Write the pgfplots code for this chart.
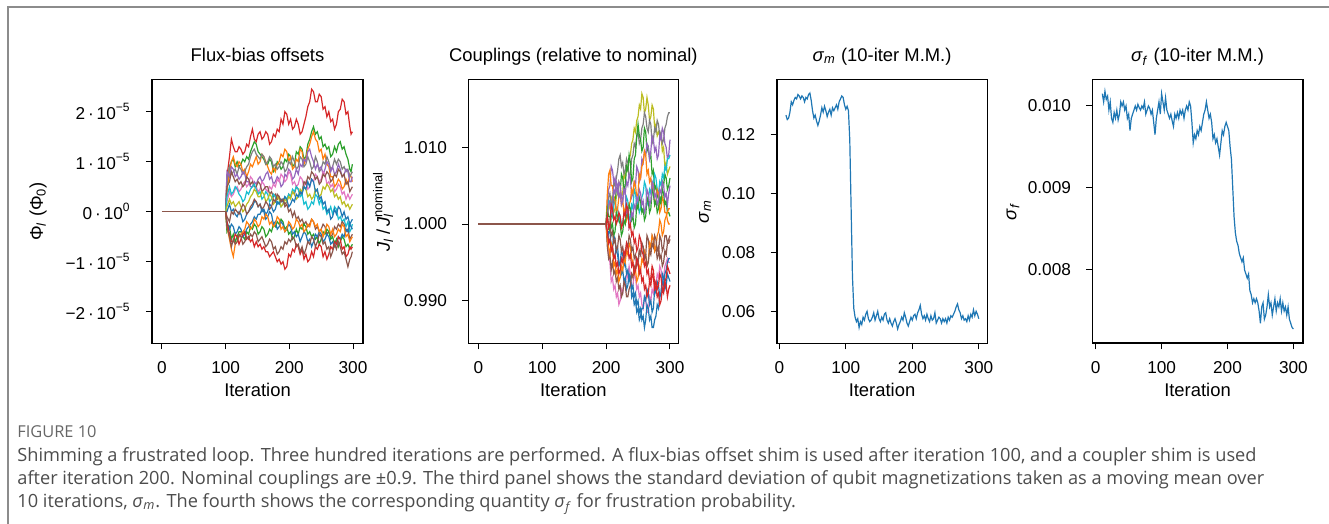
\documentclass[border=0pt]{standalone}
\usepackage{fontspec}
\setmainfont{Liberation Sans}
\newfontfamily\capfont{Open Sans}
\usepackage{pgfplots}
\usepackage{pgfplotstable}
\pgfplotsset{compat=1.18}

\definecolor{cB}{HTML}{1F77B4}
\definecolor{cO}{HTML}{FF7F0E}
\definecolor{cG}{HTML}{2CA02C}
\definecolor{cR}{HTML}{D62728}
\definecolor{cP}{HTML}{9467BD}
\definecolor{cBr}{HTML}{8C564B}
\definecolor{cPk}{HTML}{E377C2}
\definecolor{cGy}{HTML}{7F7F7F}
\definecolor{cOl}{HTML}{BCBD22}
\definecolor{cC}{HTML}{17BECF}

% Flux-bias offsets (units of 1e-5 Phi_0)
\pgfplotstableread{
x s1 s2 s3 s4 s5 s6 s7 s8 s9 s10 s11 s12 s13 s14 s15 s16
100 0 0 0 0 0 0 0 0 0 0 0 0 0 0 0 0
102 0.7 0.5 0.4 0.6 0.8 0.2 0.5 0.3 0.1 0.0 -0.1 -0.4 -0.2 -0.3 -0.2 -0.3
106 1.1 0.9 0.8 0.9 0.7 0.4 0.6 0.5 0.25 0.15 -0.2 -0.3 -0.35 -0.5 -0.45 -0.55
109 1.45 1.0 1.0 0.75 0.9 0.3 0.8 0.35 0.15 0.0 0.0 -0.55 -0.25 -0.7 -0.6 -0.75
112 1.3 1.05 1.1 0.8 0.85 0.35 0.7 0.4 0.2 0.05 -0.05 -0.45 -0.3 -0.55 -0.6 -0.9
115 1.2 0.9 0.95 0.85 0.7 0.45 0.6 0.5 0.1 -0.05 0.05 -0.6 -0.45 -0.65 -0.45 -0.65
118 1.2 1.0 0.9 0.75 0.75 0.5 0.65 0.45 0.15 -0.1 0.0 -0.5 -0.4 -0.6 -0.5 -0.6
121 1.3 0.9 1.0 0.9 0.65 0.4 0.55 0.35 0.2 0.0 -0.05 -0.4 -0.3 -0.45 -0.65 -0.5
124 1.25 0.95 0.95 0.85 0.7 0.45 0.6 0.3 0.1 -0.05 0.05 -0.4 -0.35 -0.5 -0.55 -0.45
127 1.15 1.05 0.8 0.75 0.8 0.55 0.5 0.2 0.0 -0.2 0.15 -0.5 -0.5 -0.65 -0.45 -0.4
130 1.2 1.0 0.85 0.8 0.75 0.6 0.55 0.25 0.05 -0.15 0.1 -0.55 -0.45 -0.6 -0.4 -0.35
133 1.35 1.1 0.7 0.9 0.6 0.5 0.7 0.4 0.15 -0.05 -0.05 -0.4 -0.35 -0.5 -0.55 -0.2
136 1.3 1.05 0.8 0.95 0.6 0.55 0.65 0.35 0.2 0.0 0.0 -0.45 -0.3 -0.55 -0.5 -0.25
139 1.5 1.2 0.95 1.1 0.5 0.7 0.55 0.45 0.3 0.05 0.1 -0.3 -0.25 -0.45 -0.6 -0.35
142 1.65 1.3 0.9 1.2 0.5 0.65 0.6 0.5 0.35 0.1 0.15 -0.35 -0.2 -0.5 -0.55 -0.3
145 1.45 1.4 1.0 1.25 0.6 0.5 0.5 0.55 0.45 0.2 0.25 -0.25 -0.1 -0.4 -0.7 -0.15
148 1.4 1.35 1.1 1.15 0.55 0.5 0.5 0.45 0.4 0.2 0.2 -0.3 -0.15 -0.45 -0.6 -0.2
151 1.55 1.2 0.95 1.1 0.65 0.4 0.6 0.35 0.3 0.1 0.1 -0.45 -0.05 -0.6 -0.7 -0.3
154 1.6 1.15 1.0 1.05 0.7 0.45 0.55 0.4 0.3 0.15 0.15 -0.4 -0.05 -0.55 -0.65 -0.25
157 1.45 1.1 1.15 1.15 0.6 0.6 0.4 0.25 0.4 0.0 0.05 -0.3 0.05 -0.5 -0.75 -0.1
160 1.5 1.05 1.1 1.1 0.65 0.55 0.45 0.3 0.35 0.05 0.1 -0.35 0.0 -0.6 -0.7 -0.15
163 1.6 0.95 1.0 0.95 0.75 0.45 0.5 0.4 0.2 -0.05 0.2 -0.5 -0.15 -0.7 -0.8 -0.05
166 1.55 0.95 0.9 1.0 0.8 0.4 0.5 0.35 0.25 0.0 0.15 -0.45 -0.1 -0.65 -0.8 -0.1
169 1.35 1.05 0.8 1.1 0.65 0.5 0.35 0.2 0.35 0.15 0.05 -0.35 0.0 -0.55 -0.9 -0.25
172 1.4 1.0 0.75 1.05 0.7 0.45 0.4 0.25 0.3 0.1 0.1 -0.4 -0.05 -0.6 -0.85 -0.2
175 1.55 0.8 0.9 0.9 0.55 0.55 0.3 0.35 0.15 0.0 0.25 -0.25 -0.25 -0.75 -0.8 -0.3
178 1.5 0.85 0.8 0.95 0.6 0.5 0.35 0.3 0.2 0.05 0.2 -0.3 -0.2 -0.7 -0.9 -0.25
181 1.65 1.0 0.95 0.85 0.7 0.65 0.25 0.15 0.3 0.2 0.35 -0.2 -0.35 -0.85 -1.0 -0.1
184 1.6 0.95 1.0 0.9 0.65 0.6 0.3 0.2 0.25 0.15 0.3 -0.25 -0.3 -0.8 -0.95 -0.15
187 1.85 0.85 1.15 1.0 0.5 0.75 0.2 0.1 0.1 0.25 0.2 -0.15 -0.2 -0.7 -1.05 -0.35
190 1.75 0.9 1.1 0.95 0.55 0.7 0.25 0.15 0.15 0.2 0.25 -0.2 -0.25 -0.75 -1.0 -0.3
193 2.0 1.05 1.25 0.8 0.75 0.6 0.15 0.3 0.25 0.3 0.1 -0.35 -0.4 -0.6 -1.15 -0.4
196 1.95 1.0 1.2 0.85 0.7 0.65 0.2 0.25 0.2 0.25 0.15 -0.3 -0.35 -0.65 -1.1 -0.35
199 1.75 1.15 1.0 1.0 0.85 0.8 0.35 0.35 0.3 0.1 0.0 -0.45 -0.25 -0.55 -0.85 -0.2
202 1.85 1.1 1.1 0.95 0.8 0.75 0.3 0.3 0.25 0.15 0.05 -0.4 -0.3 -0.6 -0.9 -0.25
205 1.65 0.9 0.85 1.1 0.65 0.55 0.4 0.45 0.4 0.25 -0.1 -0.55 -0.45 -0.5 -0.75 -0.35
208 1.7 0.95 0.9 1.0 0.7 0.6 0.35 0.4 0.35 0.2 0.0 -0.5 -0.4 -0.55 -0.8 -0.3
211 1.85 1.2 1.05 0.85 0.85 0.5 0.5 0.5 0.25 0.35 -0.15 -0.35 -0.5 -0.7 -0.65 -0.15
214 1.75 1.15 1.0 0.9 0.75 0.55 0.45 0.45 0.3 0.3 -0.1 -0.45 -0.45 -0.65 -0.7 -0.2
217 1.55 1.3 1.25 1.1 0.95 0.7 0.35 0.3 0.45 0.4 -0.2 -0.3 -0.6 -0.8 -0.85 -0.3
220 1.6 1.25 1.2 1.05 0.9 0.65 0.4 0.35 0.4 0.35 -0.15 -0.35 -0.5 -0.7 -0.75 -0.25
223 1.75 1.05 0.95 0.9 1.05 0.5 0.6 0.15 0.5 0.5 -0.25 -0.25 -0.4 -0.85 -0.95 -0.4
226 1.9 1.1 1.05 0.95 1.0 0.6 0.55 0.2 0.45 0.45 -0.2 -0.3 -0.45 -0.75 -0.85 -0.35
229 2.1 1.35 1.25 1.1 1.2 0.45 0.7 0.05 0.3 0.6 -0.3 -0.45 -0.6 -0.6 -1.0 -0.25
232 2.2 1.45 1.35 1.0 1.25 0.5 0.65 0.1 0.35 0.5 -0.25 -0.4 -0.55 -0.65 -0.95 -0.3
235 2.45 1.6 1.5 0.85 1.1 0.65 0.8 0.2 0.25 0.65 -0.15 -0.5 -0.7 -0.5 -0.8 -0.15
238 2.4 1.7 1.6 0.9 1.0 0.6 0.75 0.15 0.3 0.6 -0.2 -0.45 -0.6 -0.55 -0.9 -0.2
241 2.2 1.55 1.45 1.1 0.85 0.75 0.65 0.35 0.45 0.4 -0.35 -0.55 -0.45 -0.7 -0.7 -0.3
244 2.2 1.6 1.4 1.0 0.95 0.7 0.7 0.3 0.4 0.45 -0.3 -0.5 -0.5 -0.6 -0.75 -0.25
247 2.35 1.45 1.2 0.8 0.85 0.6 0.55 0.15 0.3 0.25 -0.4 -0.65 -0.4 -0.45 -0.65 -0.4
250 2.3 1.5 1.25 0.85 0.9 0.65 0.6 0.25 0.35 0.3 -0.35 -0.55 -0.45 -0.5 -0.7 -0.35
253 2.05 1.3 1.05 1.0 0.75 0.8 0.75 0.05 0.5 0.15 -0.25 -0.4 -0.6 -0.65 -0.9 -0.5
256 2.1 1.35 1.15 0.95 0.85 0.75 0.7 0.1 0.45 0.2 -0.3 -0.45 -0.55 -0.6 -0.8 -0.4
259 1.9 1.25 0.95 1.1 1.0 0.55 0.8 -0.05 0.55 0.0 -0.45 -0.35 -0.45 -0.75 -0.95 -0.25
262 2.0 1.3 0.9 1.0 0.95 0.6 0.75 0.0 0.5 0.05 -0.4 -0.4 -0.5 -0.7 -0.85 -0.3
265 1.8 1.1 0.7 0.85 0.8 0.5 0.6 0.1 0.4 -0.15 -0.5 -0.55 -0.65 -0.9 -0.7 -0.45
268 1.85 1.15 0.7 0.9 0.9 0.55 0.65 -0.05 0.45 -0.1 -0.45 -0.5 -0.6 -0.8 -0.75 -0.35
271 1.65 1.3 0.5 1.05 0.75 0.4 0.75 0.1 0.3 0.05 -0.3 -0.65 -0.7 -0.65 -0.6 -0.5
274 1.75 1.2 0.55 0.95 0.8 0.45 0.7 0.05 0.35 -0.05 -0.35 -0.55 -0.65 -0.75 -0.65 -0.45
277 2.0 1.35 0.65 1.05 0.95 0.55 0.85 -0.15 0.25 0.1 -0.25 -0.7 -0.5 -0.6 -0.5 -0.35
280 2.05 1.4 0.6 1.0 0.85 0.5 0.8 -0.1 0.3 0.05 -0.3 -0.6 -0.55 -0.7 -0.55 -0.4
283 2.25 1.25 0.45 0.85 0.7 0.35 0.7 -0.2 0.15 -0.1 -0.2 -0.5 -0.45 -0.85 -0.75 -0.25
286 2.2 1.3 0.5 0.9 0.75 0.4 0.75 -0.15 0.2 0.0 -0.25 -0.55 -0.5 -0.8 -0.7 -0.3
289 1.95 1.15 0.65 0.8 0.85 0.25 0.55 -0.3 0.1 -0.15 -0.4 -0.7 -0.35 -0.95 -0.9 -0.5
292 2.0 1.05 0.55 0.85 0.8 0.35 0.6 -0.2 0.15 -0.1 -0.35 -0.65 -0.4 -1.1 -0.85 -0.45
295 1.7 0.85 0.75 0.7 0.6 0.25 0.4 -0.4 0.05 -0.25 -0.55 -0.75 -0.25 -0.95 -0.7 -0.6
297 1.55 0.8 0.7 0.75 0.6 0.3 0.45 -0.35 0.1 -0.2 -0.5 -0.7 -0.3 -0.9 -0.75 -0.55
299 1.6 0.95 0.6 0.8 0.7 0.35 0.5 -0.25 0.15 -0.15 -0.45 -0.65 -0.35 -0.8 -0.7 -0.5
}\tabA

% Couplings relative to nominal (units of 1e-3, offset from 1)
\pgfplotstableread{
x c1 c2 c3 c4 c5 c6 c7 c8 c9 c10 c11 c12 c13 c14 c15 c16
200 0 0 0 0 0 0 0 0 0 0 0 0 0 0 0 0
202 1 2 1 3 2 4 1 -3 -2 -1 -2 2 -1 -2 1 1
204 2.5 3.5 -0.5 4.5 3 6.5 -0.5 -4.5 -4 -2 -1 1 -2.5 -3 2.5 -0.5
206 2 4 -1 5 3 7 0 -4 -5 -2 -1 1 -2 -4 3 0
208 3.5 2.5 1 7.5 1.5 5 2.5 -6 -7.5 -3.5 -3 -0.5 -3.5 -2.5 1.5 -1.5
210 3 3 2 7 1 5 2 -5 -7 -3 -3 0 -3 -3 2 -1
212 1.5 5.5 3.5 5.5 2.5 3.5 0.5 -6.5 -8.5 -1.5 -4.5 -1.5 -4.5 -5.5 4.5 -2.5
214 2 5 3 6 3 3 1 -6 -8 -2 -4 -1 -4 -5 4 -2
216 3.5 6 4.5 4.5 2 1.5 0 -7.5 -9.5 -3.5 -3 1.5 -5.5 -6.5 5.5 -3.5
218 4 7 5 4 2 2 0.5 -7 -9 -4 -3 1 -5 -6 5 -3
220 5.5 8.5 3.5 5.5 0.5 3.5 1.5 -8.5 -10.5 -5.5 -5 0.5 -6.5 -7.5 3.5 -1.5
222 5 9 4 5 1 4 1 -8 -10 -5 -5 0 -6 -7 4 -2
224 3.5 7.5 6.5 3.5 0 2.5 -0.5 -9.5 -8.5 -3.5 -6.5 -1.5 -4.5 -5.5 2.5 -3.5
226 4 8 6 3 0 3 0 -9 -9 -4 -6 -1 -5 -6 3 -3
228 6.5 6.5 4.5 4.5 1.5 1.5 1.5 -7.5 -7.5 -5.5 -7.5 0.5 -3.5 -4.5 4.5 -4.5
230 6 7 5 4 2 2 1 -8 -8 -5 -7 0 -4 -5 4 -4
232 7.5 8.5 7.5 5.5 3.5 0.5 2.5 -9.5 -6.5 -6.5 -8.5 1.5 -2.5 -3.5 1.5 -2.5
234 7 8 7 5 3 1 2 -9.5 -7 -6 -8 1 -3 -4 2 -3
236 8.5 6 9 6.5 0.5 2.5 -0.5 -8.5 -5.5 -7.5 -6.5 2.5 -4.5 -2.5 -0.5 -1.5
238 9 6.5 8 6 1 3 0 -8 -6.5 -7 -7 2 -4 -3 0 -2
240 10.5 8.5 5.5 3.5 2.5 4.5 -1.5 -6.5 -8.5 -8.5 -9.5 0.5 -5.5 -4.5 1.5 -3.5
242 11 9 6 4 2 4 -1 -7 -8 -8 -9 1 -5 -5 1 -3
244 12.5 10.5 8.5 5.5 4.5 5.5 -2.5 -5.5 -6.5 -9.5 -10.5 -0.5 -6.5 -6.5 2.5 -4.5
246 12 10 9 5 4 5 -2 -6 -7 -9 -10 0 -6 -6 2 -4
248 13.5 11.5 11.5 7.5 2.5 3.5 -3.5 -4.5 -8.5 -10.5 -11.5 2.5 -4.5 -7.5 3.5 -5.5
250 14 12 13 7 3 4 -3 -5 -8 -10 -11 2 -5 -7 3 -5
252 15.5 10.5 11.5 5.5 1.5 6.5 -1.5 -3.5 -9.5 -11.5 -12.5 3.5 -6.5 -5.5 4.5 -3.5
254 15 11 11 6 2 6 -2 -4 -9 -11 -12 3 -6 -6 4 -4
256 17 12.5 9.5 8.5 3.5 7.5 -3.5 -2.5 -10.5 -12.5 -11 1.5 -7.5 -4.5 2.5 -2.5
258 16.5 13 10 8 4 8 -4 -3 -11 -12 -11 2 -7 -5 3 -3
260 14.5 14.5 12.5 9.5 5.5 9.5 -5.5 -4.5 -9.5 -13.5 -9.5 0.5 -8.5 -3.5 1.5 -4.5
262 15 14 12 9 5 9 -5 -4 -10 -12.5 -10 1 -8 -4 2 -4
264 16.5 12.5 9.5 10.5 2.5 6.5 -6.5 -1.5 -11.5 -10.5 -8.5 3.5 -9.5 -5.5 4.5 -5.5
266 15.5 12 10 10 3 7 -6 -2 -11.5 -11 -9 3 -9 -5 4 -5
268 13.5 13.5 8.5 8.5 4.5 5.5 -7.5 -3.5 -9.5 -12.5 -10.5 1.5 -7.5 -2.5 2.5 -3.5
270 14 13 9 9.5 4 6 -7 -3 -10 -12 -10 2 -8 -3 3 -4
272 15.5 10.5 6.5 11.5 5.5 4.5 -5.5 -1.5 -8.5 -13.5 -11.5 4.5 -6.5 -1.5 5.5 -2.5
274 15 11 7 11 5 5 -6 -2 -9 -13.5 -11 4 -7 -2 5 -3
276 12.5 12.5 4.5 9.5 6.5 2.5 -8 -3.5 -7.5 -12.5 -8.5 2.5 -8.5 -3.5 3.5 -1.5
278 13 12 5 10 6 3 -7.5 -3 -8 -12 -9 3 -8 -3 4 -2
280 11.5 13.5 3.5 8.5 4.5 4.5 -8.5 -4.5 -6.5 -10.5 -7.5 1.5 -9.5 -1.5 2.5 -3.5
282 12 13 4 9 4 4 -8 -4 -7 -11 -8 2 -9 -1 3 -3
284 11.5 11.5 2.5 11.5 5.5 1.5 -6.5 -1.5 -5.5 -9.5 -9.5 3.5 -10.5 0.5 4.5 -4.5
286 11.5 12 3 11 5 2 -7 -2 -6 -9 -9 3 -10 0 4 -4
288 9.5 10.5 5.5 12.5 6.5 3.5 -8.5 -3.5 -7.5 -7.5 -6.5 4.5 -8.5 -1.5 5.5 -5.5
290 10 11 5 12 6 3 -8.5 -3 -7 -8 -7 4 -9 -1 5 -5
292 7.5 12.5 6.5 10.5 7.5 1.5 -7.5 -1.5 -5.5 -6.5 -8.5 2.5 -7.5 0.5 3.5 -3.5
294 8 13 6 10 7 1.5 -7 -1.5 -5 -6 -8 3 -8 1 4 -4
296 6.5 14 4.5 8.5 8.5 0.5 -5.5 -2.5 -4.5 -5 -6.5 1.5 -9.5 1.5 2.5 -2.5
298 7 14.5 5 9 8.5 0 -6 -2 -5 -4.5 -7 1.5 -8.5 2 4 -2.5
300 7.5 14.5 6 11 9 0 -6.5 -1.5 -5 -4.5 -7.5 1 -8 2 5 -2
}\tabB

% sigma_m, 10-iteration moving mean
\pgfplotstableread{
x y
10 0.1265
12 0.1250
14 0.1255
16 0.1275
18 0.1310
20 0.1300
22 0.1315
24 0.1325
26 0.1320
28 0.1335
30 0.1330
32 0.1320
34 0.1330
36 0.1325
38 0.1310
40 0.1325
42 0.1320
44 0.1335
46 0.1340
48 0.1315
50 0.1280
52 0.1255
54 0.1265
56 0.1245
58 0.1230
60 0.1245
62 0.1265
64 0.1290
66 0.1275
68 0.1295
70 0.1280
72 0.1260
74 0.1275
76 0.1285
78 0.1265
80 0.1290
82 0.1280
84 0.1290
86 0.1300
88 0.1285
90 0.1310
92 0.1320
94 0.1330
96 0.1325
98 0.1300
100 0.1285
102 0.1295
104 0.1280
106 0.1180
108 0.0950
110 0.0720
112 0.0610
114 0.0580
116 0.0565
118 0.0575
120 0.0545
122 0.0565
124 0.0555
126 0.0580
128 0.0570
130 0.0590
132 0.0600
134 0.0575
136 0.0565
138 0.0570
140 0.0580
142 0.0595
144 0.0570
146 0.0585
148 0.0600
150 0.0575
152 0.0565
154 0.0580
156 0.0570
158 0.0590
160 0.0595
162 0.0570
164 0.0560
166 0.0575
168 0.0560
170 0.0550
172 0.0565
174 0.0575
176 0.0560
178 0.0540
180 0.0555
182 0.0565
184 0.0580
186 0.0570
188 0.0595
190 0.0580
192 0.0560
194 0.0550
196 0.0565
198 0.0580
200 0.0570
202 0.0585
204 0.0590
206 0.0575
208 0.0595
210 0.0605
212 0.0620
214 0.0590
216 0.0575
218 0.0585
220 0.0570
222 0.0590
224 0.0575
226 0.0565
228 0.0585
230 0.0570
232 0.0575
234 0.0595
236 0.0560
238 0.0570
240 0.0580
242 0.0575
244 0.0560
246 0.0575
248 0.0565
250 0.0575
252 0.0560
254 0.0580
256 0.0570
258 0.0585
260 0.0580
262 0.0590
264 0.0600
266 0.0615
268 0.0625
270 0.0605
272 0.0595
274 0.0575
276 0.0585
278 0.0570
280 0.0575
282 0.0565
284 0.0585
286 0.0570
288 0.0590
290 0.0580
292 0.0605
294 0.0585
296 0.0600
298 0.0590
300 0.0575
}\tabC

% sigma_f, 10-iteration moving mean (units of 1e-3)
\pgfplotstableread{
x y
10 10.15
12 10.05
14 10.18
16 10.08
18 10.12
20 9.95
22 10.05
24 9.85
26 9.80
28 9.92
30 9.85
32 9.95
34 9.83
36 9.90
38 10.05
40 10.00
42 10.05
44 9.95
46 10.00
48 9.85
50 9.90
52 9.70
54 9.85
56 9.90
58 9.95
60 10.00
62 9.95
64 10.02
66 9.98
68 9.95
70 10.00
72 9.97
74 10.05
76 9.90
78 9.95
80 10.00
82 9.97
84 9.90
86 9.95
88 9.80
90 9.65
92 9.85
94 9.95
96 10.05
98 9.90
100 10.15
102 10.05
104 9.95
106 10.10
108 9.95
110 9.90
112 9.85
114 9.90
116 9.82
118 9.75
120 9.90
122 9.85
124 9.92
126 9.85
128 9.95
130 9.90
132 9.95
134 9.85
136 9.95
138 10.00
140 9.95
142 10.05
144 10.00
146 9.80
148 9.55
150 9.65
152 9.60
154 9.70
156 9.65
158 9.75
160 9.70
162 9.80
164 9.90
166 9.95
168 10.05
170 9.95
172 9.85
174 9.90
176 9.80
178 9.60
180 9.65
182 9.55
184 9.60
186 9.50
188 9.40
190 9.55
192 9.70
194 9.65
196 9.75
198 9.80
200 9.75
202 9.70
204 9.50
206 9.35
208 9.00
210 8.65
212 8.45
214 8.35
216 8.30
218 8.20
220 8.15
222 8.10
224 8.15
226 8.00
228 7.95
230 7.90
232 7.95
234 7.75
236 7.70
238 7.60
240 7.65
242 7.60
244 7.65
246 7.60
248 7.50
250 7.35
252 7.55
254 7.60
256 7.40
258 7.45
260 7.55
262 7.70
264 7.55
266 7.60
268 7.45
270 7.55
272 7.65
274 7.50
276 7.60
278 7.55
280 7.65
282 7.50
284 7.60
286 7.50
288 7.55
290 7.45
292 7.55
294 7.40
296 7.35
298 7.30
300 7.28
}\tabD

\pgfplotsset{
  rpanel/.style={
    scale only axis, anchor=north west, clip=true,
    axis line style={line width=0.8pt},
    every tick/.style={black, line width=0.5pt},
    tick align=outside, major tick length=3pt,
    xtick pos=bottom, ytick pos=left,
    xtick={0,100,200,300}, xticklabels={0,100,200,300},
    tick label style={font=\fontsize{8.6}{10}\selectfont},
    xticklabel style={anchor=base, inner sep=0pt, yshift=-11.9pt},
    yticklabel style={anchor=east, inner sep=0pt, xshift=-7.5pt},
    xlabel={Iteration},
    every axis x label/.style={at={(axis description cs:0.5,0)}, anchor=base, yshift=-26.7pt, font=\fontsize{9.2}{11}\selectfont},
    every axis y label/.style={rotate=90, anchor=center, font=\fontsize{9.2}{11}\selectfont},
    every axis title/.style={at={(axis description cs:0.5,1)}, anchor=base, yshift=8.8pt, font=\fontsize{9.2}{11}\selectfont},
    height=131.9pt,
    every axis plot/.append style={line width=0.6pt},
  },
}

\begin{document}
\begin{tikzpicture}
\path[use as bounding box] (0pt,0pt) rectangle (664.5pt,-262pt);
\draw[color=black!45, line width=1pt] (3.75pt,-262pt) -- (3.75pt,-3.75pt) -- (664.5pt,-3.75pt);

% Panel 1
\begin{axis}[rpanel, at={(76pt,-39.75pt)}, width=105.5pt,
  xmin=-15.7, xmax=315.7, ymin=-2.632, ymax=2.644,
  ytick={-2,-1,0,1,2},
  yticklabels={−2\,·\,10\textsuperscript{−5},−1\,·\,10\textsuperscript{−5},0\,·\,10\textsuperscript{0},1\,·\,10\textsuperscript{−5},2\,·\,10\textsuperscript{−5}},
  title={Flux-bias offsets},
  ylabel={Φ\textsubscript{\textit{l}} (Φ\textsubscript{0})},
  ylabel style={at={(axis description cs:-0.540,0.5)}},
]
\addplot[cR] table[x=x,y=s1]{\tabA};
\addplot[cG] table[x=x,y=s2]{\tabA};
\addplot[cO] table[x=x,y=s3]{\tabA};
\addplot[cGy] table[x=x,y=s4]{\tabA};
\addplot[cP] table[x=x,y=s5]{\tabA};
\addplot[cPk] table[x=x,y=s6]{\tabA};
\addplot[cBr] table[x=x,y=s7]{\tabA};
\addplot[cC] table[x=x,y=s8]{\tabA};
\addplot[cOl] table[x=x,y=s9]{\tabA};
\addplot[cB] table[x=x,y=s10]{\tabA};
\addplot[cBr] table[x=x,y=s11]{\tabA};
\addplot[cG] table[x=x,y=s12]{\tabA};
\addplot[cB] table[x=x,y=s13]{\tabA};
\addplot[cO] table[x=x,y=s16]{\tabA};
\addplot[cR] table[x=x,y=s15]{\tabA};
\addplot[cBr] table[x=x,y=s14]{\tabA};
\addplot[cBr, line width=0.7pt] coordinates {(0,0) (100,0)};
\end{axis}

% Panel 2
\begin{axis}[rpanel, at={(234.15pt,-39.75pt)}, width=105pt,
  xmin=-15.65, xmax=313, ymin=-15.55, ymax=18.84,
  ytick={-10,0,10}, yticklabels={0.990,1.000,1.010},
  title={Couplings (relative to nominal)},
  ylabel={\textit{J}\textsubscript{\textit{l}}\,/\,\textit{J}\rlap{\textsubscript{\textit{l}}}\textsuperscript{nominal}},
  ylabel style={at={(axis description cs:-0.406,0.5)}},
]
\addplot[cOl] table[x=x,y=c1]{\tabB};
\addplot[cGy] table[x=x,y=c2]{\tabB};
\addplot[cG] table[x=x,y=c3]{\tabB};
\addplot[cP] table[x=x,y=c4]{\tabB};
\addplot[cC] table[x=x,y=c5]{\tabB};
\addplot[cO] table[x=x,y=c6]{\tabB};
\addplot[cPk] table[x=x,y=c9]{\tabB};
\addplot[cB] table[x=x,y=c10]{\tabB};
\addplot[cB] table[x=x,y=c11]{\tabB};
\addplot[cG] table[x=x,y=c12]{\tabB};
\addplot[cBr] table[x=x,y=c8]{\tabB};
\addplot[cO] table[x=x,y=c14]{\tabB};
\addplot[cP] table[x=x,y=c15]{\tabB};
\addplot[cBr] table[x=x,y=c16]{\tabB};
\addplot[cR] table[x=x,y=c13]{\tabB};
\addplot[cR] table[x=x,y=c7]{\tabB};
\addplot[cBr, line width=0.7pt] coordinates {(0,0) (200,0)};
\end{axis}

% Panel 3
\begin{axis}[rpanel, at={(388.35pt,-39.75pt)}, width=105.3pt,
  xmin=-3.9, xmax=312.8, ymin=0.04915, ymax=0.13858,
  ytick={0.06,0.08,0.10,0.12}, yticklabels={0.06,0.08,0.10,0.12},
  title={\textit{σ}\textsubscript{\textit{m}} (10-iter M.M.)},
  ylabel={\textit{σ}\textsubscript{\textit{m}}},
  ylabel style={at={(axis description cs:-0.3404,0.5)}},
]
\addplot[cB] table[x=x,y=y]{\tabC};
\end{axis}

% Panel 4
\begin{axis}[rpanel, at={(546.15pt,-39.75pt)}, width=105.2pt,
  xmin=-5.2, xmax=314.2, ymin=7.106, ymax=10.323,
  ytick={8,9,10}, yticklabels={0.008,0.009,0.010},
  title={\textit{σ}\textsubscript{\textit{f}} (10-iter M.M.)},
  ylabel={\textit{σ}\textsubscript{\textit{f}}},
  ylabel style={at={(axis description cs:-0.3769,0.5)}},
]
\addplot[cB] table[x=x,y=y]{\tabD};
\end{axis}

% Caption
\node[anchor=base west, inner sep=0pt, text=black!60, font=\capfont\fontsize{8.2}{10}\selectfont] at (8.5pt,-218.8pt) {FIGURE 10};
\begin{scope}[every node/.style={anchor=base west, inner sep=0pt, text=black!70, font=\capfont\fontsize{9.1}{11}\selectfont}]
\node at (8.5pt,-230.5pt) {Shimming a frustrated loop. Three hundred iterations are performed. A flux-bias offset shim is used after iteration 100, and a coupler shim is used};
\node at (8.5pt,-242.2pt) {after iteration 200. Nominal couplings are ±0.9. The third panel shows the standard deviation of qubit magnetizations taken as a moving mean over};
\node at (8.5pt,-253.9pt) {10 iterations, \textit{σ}\textsubscript{\textit{m}}. The fourth shows the corresponding quantity \textit{σ}\textsubscript{\textit{f}} for frustration probability.};
\end{scope}
\end{tikzpicture}
\end{document}
